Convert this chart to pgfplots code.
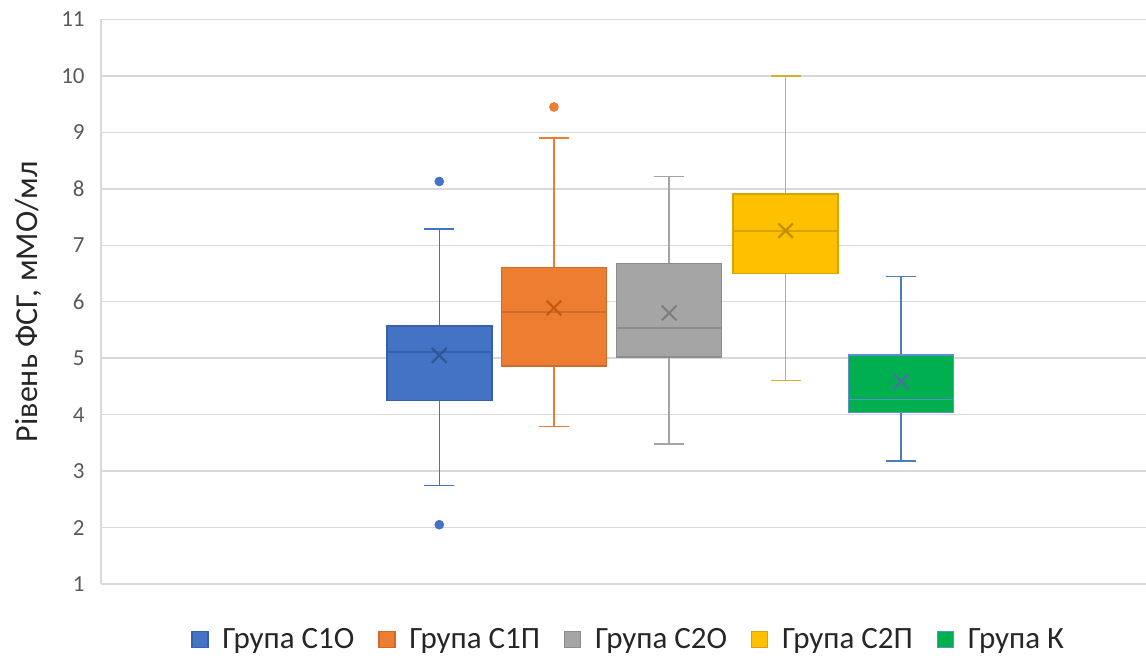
\documentclass[border=0pt]{standalone}
\usepackage{pgfplots}
\pgfplotsset{compat=1.18}
\usepgfplotslibrary{statistics}
\usepackage{fontspec}
\setmainfont{Carlito}
\definecolor{gridc}{HTML}{D9D9D9}
\definecolor{tickc}{HTML}{595959}
\definecolor{labc}{HTML}{262626}
\definecolor{ca}{HTML}{4472C4}\definecolor{caD}{HTML}{3560AC}\definecolor{caM}{HTML}{2F5597}
\definecolor{cb}{HTML}{ED7D31}\definecolor{cbD}{HTML}{D0692A}\definecolor{cbM}{HTML}{C55A11}
\definecolor{cc}{HTML}{A5A5A5}\definecolor{ccD}{HTML}{8C8C8C}\definecolor{ccM}{HTML}{7F7F7F}
\definecolor{cd}{HTML}{FFC000}\definecolor{cdD}{HTML}{D9A300}\definecolor{cdW}{HTML}{D9AC2A}\definecolor{cdM}{HTML}{BF9000}
\definecolor{ce}{HTML}{00B050}\definecolor{ceD}{HTML}{5B8FD0}\definecolor{ceW}{HTML}{4A7EBB}\definecolor{ceM}{HTML}{4A6FA5}
\pgfplotsset{
  mybox/.style n args={3}{forget plot, solid, draw=#3, boxplot/draw direction=y,
    boxplot/every box/.style={draw=#2, fill=#1, line width=0.8pt},
    boxplot/every whisker/.style={draw=#3, line width=0.7pt},
    boxplot/every median/.style={draw=#2, line width=0.8pt}},
  mymean/.style={forget plot, only marks, mark=x, mark size=5.2pt, mark options={draw=#1, line width=1.1pt}},
  myout/.style={forget plot, only marks, mark=*, mark size=2.2pt, mark options={draw=#1, fill=#1}},
}
\begin{document}
\begin{tikzpicture}
\useasboundingbox (-50.5pt,-37pt) rectangle (522.5pt,292pt);
\begin{axis}[
  at={(0,0)}, anchor=south west,
  scale only axis, width=522.5pt, height=282.25pt,
  xmin=0, xmax=9.048, ymin=1, ymax=11,
  xtick=\empty, ytick={1,2,...,11},
  ymajorgrids, grid style={draw=gridc, line width=0.75pt},
  axis lines*=left, axis line style={draw=gridc, line width=0.75pt, -},
  major tick length=0pt,
  /pgf/number format/assume math mode=true,
  yticklabel style={font=\fontsize{11.5}{12}\selectfont, text=tickc, anchor=east, inner sep=0pt, xshift=-8pt},
  ylabel={Рівень ФСГ, мМО/мл},
  ylabel style={font=\fontsize{16}{17}\selectfont, text=labc, at={(axis description cs:-0.0699,0.5)}, anchor=center},
  legend columns=5,
  legend style={draw=none, fill=none, at={(axis description cs:0.506,-0.099)}, anchor=center,
    font=\fontsize{15.5}{17}\selectfont, text=labc,
    /tikz/every even column/.append style={column sep=10pt}},
  legend image code/.code={\draw[#1, line width=0.6pt] (0pt,-4pt) rectangle (8pt,4pt); \path (13pt,0pt);},
  clip=false,
]
% С1О
\addplot[mybox={ca}{caD}{ca}, boxplot prepared={draw position=2.929, lower whisker=2.745, lower quartile=4.25, median=5.11, upper quartile=5.57, upper whisker=7.29, box extend=0.909, whisker extend=0.26}] coordinates {};
\addplot[myout=ca] coordinates {(2.929,8.13) (2.929,2.05)};
\addplot[mymean=caM] coordinates {(2.929,5.05)};
% С1П
\addplot[mybox={cb}{cbD}{cb}, boxplot prepared={draw position=3.922, lower whisker=3.79, lower quartile=4.86, median=5.82, upper quartile=6.61, upper whisker=8.90, box extend=0.909, whisker extend=0.26}] coordinates {};
\addplot[myout=cb] coordinates {(3.922,9.45)};
\addplot[mymean=cbM] coordinates {(3.922,5.89)};
% С2О
\addplot[mybox={cc}{ccD}{cc}, boxplot prepared={draw position=4.919, lower whisker=3.48, lower quartile=5.02, median=5.53, upper quartile=6.68, upper whisker=8.22, box extend=0.909, whisker extend=0.26}] coordinates {};
\addplot[mymean=ccM] coordinates {(4.919,5.80)};
% С2П
\addplot[mybox={cd}{cdD}{cdW}, boxplot prepared={draw position=5.928, lower whisker=4.61, lower quartile=6.50, median=7.25, upper quartile=7.91, upper whisker=10.0, box extend=0.909, whisker extend=0.26}] coordinates {};
\addplot[mymean=cdM] coordinates {(5.928,7.26)};
% К
\addplot[mybox={ce}{ceD}{ceW}, boxplot prepared={draw position=6.926, lower whisker=3.18, lower quartile=4.04, median=4.27, upper quartile=5.06, upper whisker=6.45, box extend=0.909, whisker extend=0.26}] coordinates {};
\addplot[mymean=ceM] coordinates {(6.926,4.59)};
\addlegendimage{fill=ca, draw=caD}
\addlegendimage{fill=cb, draw=cbD}
\addlegendimage{fill=cc, draw=ccD}
\addlegendimage{fill=cd, draw=cdD}
\addlegendimage{fill=ce, draw=ceD}
\legend{Група С1О, Група С1П, Група С2О, Група С2П, Група К}
\end{axis}
\end{tikzpicture}
\end{document}
